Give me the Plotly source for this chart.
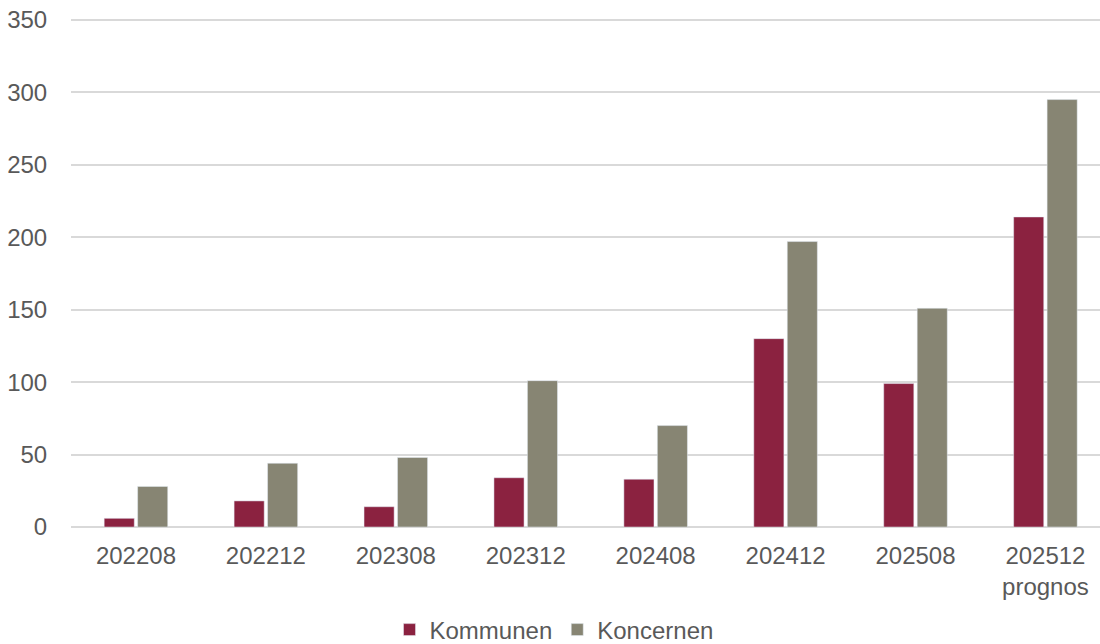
import plotly.graph_objects as go

categories = ["202208", "202212", "202308", "202312", "202408", "202412", "202508", "202512"]
tick_labels = ["202208", "202212", "202308", "202312", "202408", "202412", "202508",
               "202512<br>prognos"]
y_ticks = [0, 50, 100, 150, 200, 250, 300, 350]
kommunen = [6, 18, 14, 34, 33, 130, 99, 214]
koncernen = [28, 44, 48, 101, 70, 197, 151, 295]

FONT = "Liberation Sans, Arial, sans-serif"
GREY = "#595959"

fig = go.Figure()
fig.add_trace(go.Bar(name="Kommunen", x=categories, y=kommunen, marker_color="#8B2240"))
fig.add_trace(go.Bar(name="Koncernen", x=categories, y=koncernen, marker_color="#878573"))

fig.update_layout(
    width=1100, height=644,
    margin=dict(l=71, r=0, t=17, b=117, autoexpand=False),
    paper_bgcolor="white", plot_bgcolor="white",
    barmode="group", bargap=0.485, bargroupgap=0.1,
    font=dict(family=FONT, size=24, color=GREY),
    legend=dict(orientation="h", x=0.4694, xanchor="center", y=-0.202, yanchor="middle",
                font=dict(family=FONT, size=24, color=GREY), itemwidth=30,
                traceorder="normal", tracegroupgap=0),
    xaxis=dict(type="category", tickmode="array", tickvals=categories, ticktext=tick_labels,
               range=[-0.5, 7.42], showgrid=False, showline=False, automargin=False,
               ticks="outside", ticklen=7, tickcolor="rgba(0,0,0,0)",
               tickfont=dict(family=FONT, size=24, color=GREY)),
    yaxis=dict(range=[0, 352], tickmode="array", tickvals=y_ticks,
               showgrid=True, gridcolor="#d9d9d9", gridwidth=1.5,
               zeroline=True, zerolinecolor="#d9d9d9", zerolinewidth=1.5, showline=False,
               automargin=False, ticklabeloverflow="allow",
               ticks="outside", ticklen=18, tickcolor="rgba(0,0,0,0)",
               tickfont=dict(family=FONT, size=24, color=GREY)),
)

# remove the browser's default 8px body margin so the figure fills the window exactly
fig.write_html("out.html", config={"displayModeBar": False},
               post_script="document.body.style.margin='0';")
